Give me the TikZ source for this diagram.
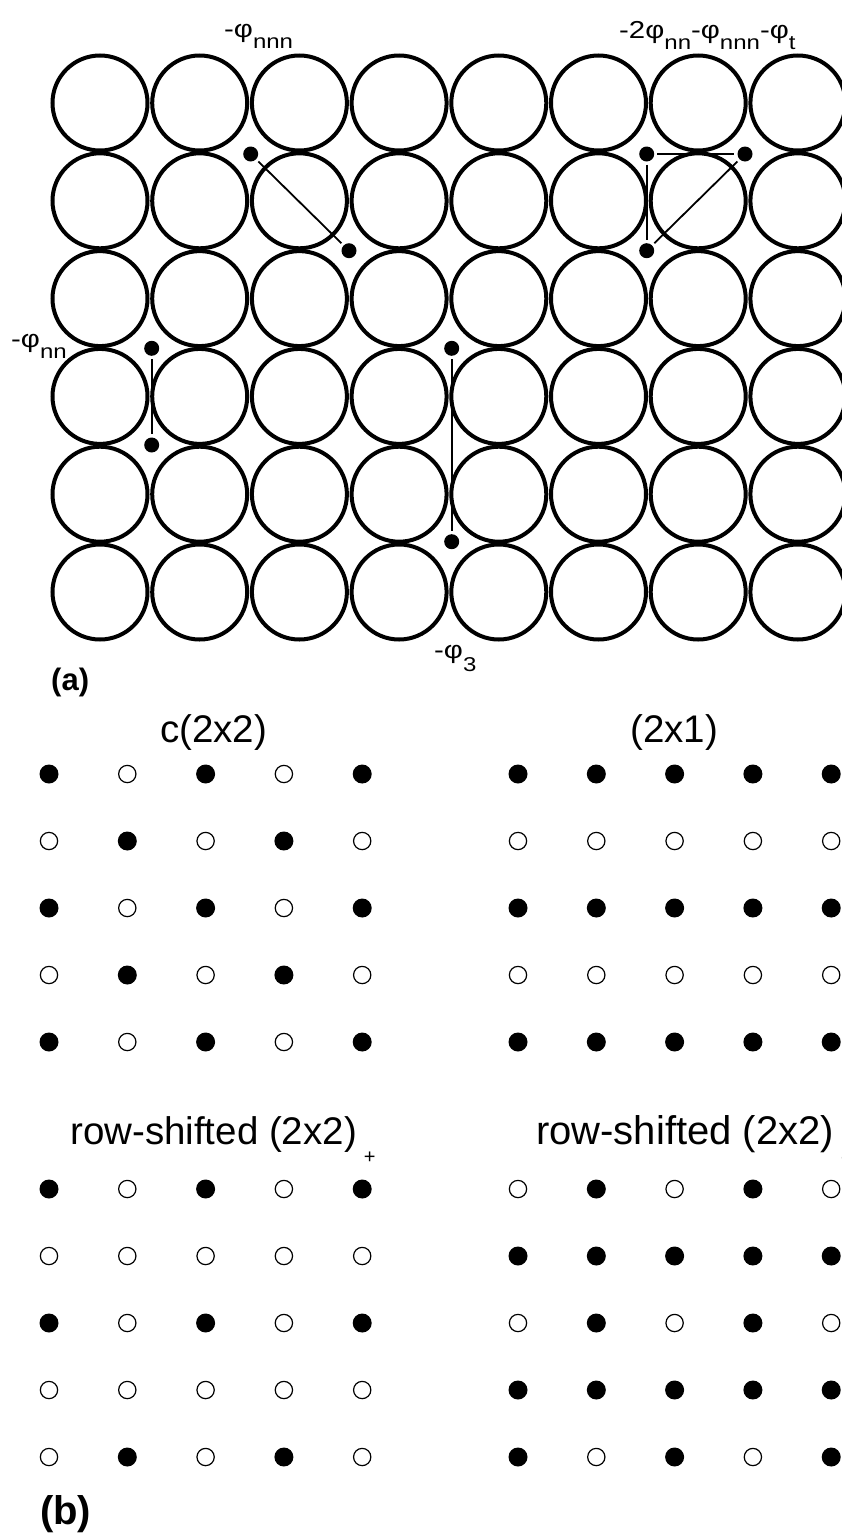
\documentclass[tikz,border=0pt]{standalone}
\usepackage{fontspec}
\setmainfont{Liberation Sans}
\newcommand\lsub[2][11pt]{\raisebox{-#1}{\fontsize{20}{20}\selectfont #2}}
\newcommand\hs[1]{\scalebox{1.2}[1]{#1}}
\tikzset{
 ring/.style={line width=4pt},
 site/.style={circle, fill=black, inner sep=0pt, minimum size=15pt},
 bond/.style={line width=1.8pt, shorten <=3pt, shorten >=3pt},
 lab/.style={inner sep=0pt, anchor=base west, font=\fontsize{24.5}{24.5}\selectfont},
 ttl/.style={inner sep=0pt, anchor=base west, font=\fontsize{38.5}{38.5}\selectfont},
 plab/.style={inner sep=0pt, anchor=base west, font=\bfseries\fontsize{31}{31}\selectfont},
 full/.style={circle, fill=black, inner sep=0pt, minimum size=19pt},
 empty/.style={circle, draw=black, line width=1.2pt, fill=white, inner sep=0pt, minimum size=17.3pt},
}
\newcommand\dotgrid[4]{%
 \foreach \r/\pat in {#4} {
   \foreach \v [count=\k from 0] in \pat {
     \ifnum\v=1
       \node[full] (#1-\r-\k) at (#2+78.3*\k, #3+67*\r) {};
     \else
       \node[empty] (#1-\r-\k) at (#2+78.3*\k, #3+67*\r) {};
     \fi
   }
 }}
\begin{document}
\begin{tikzpicture}[x=1pt,y=-1pt]
\useasboundingbox (0,0) rectangle (842,1534);
% (a) close-packed atoms
\foreach \i in {0,...,7} \foreach \j in {0,...,5}
  \draw[ring] (100+99.7*\i, 103+97.8*\j) circle[radius=47.5pt];
% adsorption sites
\node[site] (p1) at (250.7,154) {};
\node[site] (p2) at (349,250.7) {};
\node[site] (q1) at (151.7,348.3) {};
\node[site] (q2) at (151.7,445) {};
\node[site] (r1) at (451.7,348.3) {};
\node[site] (r2) at (451.7,541.7) {};
\node[site] (s1) at (646.7,154) {};
\node[site] (s2) at (745,154) {};
\node[site] (s3) at (646.7,250.7) {};
\draw[bond] (p1) -- (p2);
\draw[bond] (q1) -- (q2);
\draw[bond] (r1) -- (r2);
\draw[bond] (s1) -- (s2);
\draw[bond] (s1) -- (s3);
\draw[bond] (s2) -- (s3);
% labels
\node[lab] (Lnnn) at (224,37) {\hs{-φ\lsub{nnn}}};
\node[lab] (Lt) at (619,38) {\hs{-2φ\lsub{nn}-φ\lsub{nnn}-φ\lsub{t}}};
\node[lab] (Lnn) at (11,347) {\hs{-φ\lsub{nn}}};
\node[lab] (L3) at (434,658) {\hs{-φ\lsub[13pt]{3}}};
\node[plab] (pa) at (51,690) {(a)};
% (b) ordered structures
\node[ttl] (tc) at (160,742) {c(2x2)};
\node[ttl] (t21) at (630,742) {(2x1)};
\node[ttl] (tp) at (70,1144) {row-shifted (2x2)\hspace{7pt}\lsub[19pt]{+}};
\node[ttl, font=\fontsize{40}{40}\selectfont] (tm) at (536,1144) {row-shifted (2x2)\hspace{7pt}\lsub[19pt]{-}};
\dotgrid{ca}{49}{774}{0/{1,0,1,0,1},1/{0,1,0,1,0},2/{1,0,1,0,1},3/{0,1,0,1,0},4/{1,0,1,0,1}}
\dotgrid{cb}{518}{774}{0/{1,1,1,1,1},1/{0,0,0,0,0},2/{1,1,1,1,1},3/{0,0,0,0,0},4/{1,1,1,1,1}}
\dotgrid{cc}{49}{1189}{0/{1,0,1,0,1},1/{0,0,0,0,0},2/{1,0,1,0,1},3/{0,0,0,0,0},4/{0,1,0,1,0}}
\dotgrid{cd}{518}{1189}{0/{0,1,0,1,0},1/{1,1,1,1,1},2/{0,1,0,1,0},3/{1,1,1,1,1},4/{1,0,1,0,1}}
\node[plab, font=\bfseries\fontsize{40}{40}\selectfont] (pb) at (40,1524) {(b)};
\end{tikzpicture}
\end{document}
